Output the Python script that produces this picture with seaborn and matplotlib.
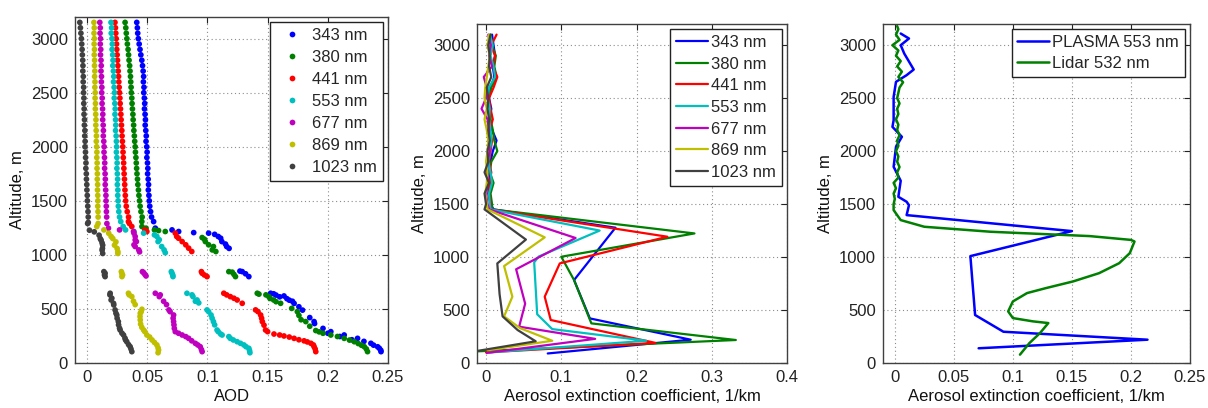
import matplotlib
matplotlib.use("Agg")
import matplotlib.pyplot as plt
import seaborn as sns
import pandas as pd
from matplotlib.ticker import FuncFormatter, MultipleLocator

sns.set_theme(style="white")
plt.rcParams['font.family'] = ['Liberation Sans', 'DejaVu Sans']

# ---------------- common ----------------
wavelengths = ['343 nm', '380 nm', '441 nm', '553 nm', '677 nm', '869 nm', '1023 nm']
colors = ['#0000ff', '#008000', '#ff0000', '#00bfbf', '#bf00bf', '#bfbf00', '#404040']

# ---------------- panel 1: AOD profiles (points) ----------------
alt_upper = [3150, 3100, 3050, 3000, 2950, 2900, 2850, 2800, 2750, 2700, 2650, 2600, 2550,
             2500, 2450, 2400, 2350, 2300, 2250, 2200, 2150, 2100, 2050, 2000, 1950, 1900,
             1850, 1800, 1750, 1700, 1650, 1600, 1550, 1500, 1450, 1400, 1350]

aod_up_343 = [.0413, .0418, .0421, .0426, .0433, .0440, .0447, .0455, .0461, .0466, .0470, .0468, .0473,
              .0471, .0476, .0479, .0477, .0482, .0485, .0483, .0488, .0492, .0490, .0496, .0499, .0497,
              .0502, .0505, .0503, .0508, .0511, .0509, .0514, .0517, .0521, .0528, .0536]
aod_up_380 = [.0316, .0322, .0326, .0331, .0335, .0341, .0345, .0349, .0354, .0357, .0361, .0363, .0366,
              .0368, .0372, .0374, .0377, .0381, .0383, .0387, .0389, .0393, .0396, .0400, .0402, .0406,
              .0409, .0412, .0415, .0419, .0422, .0427, .0431, .0436, .0441, .0448, .0458]
aod_up_441 = [.0232, .0236, .0239, .0242, .0245, .0247, .0250, .0253, .0256, .0259, .0262, .0264, .0267,
              .0270, .0273, .0275, .0278, .0281, .0283, .0286, .0289, .0291, .0294, .0297, .0299, .0301,
              .0304, .0306, .0308, .0311, .0313, .0315, .0318, .0321, .0326, .0334, .0345]
aod_up_553 = [.0199, .0204, .0201, .0207, .0210, .0208, .0213, .0216, .0214, .0219, .0222, .0220, .0225,
              .0228, .0226, .0231, .0234, .0232, .0237, .0239, .0237, .0242, .0244, .0246, .0244, .0248,
              .0250, .0248, .0252, .0254, .0252, .0256, .0255, .0258, .0260, .0264, .0270]
aod_up_677 = [.0106, .0110, .0108, .0112, .0110, .0114, .0112, .0116, .0118, .0116, .0120, .0119, .0123,
              .0122, .0126, .0125, .0129, .0131, .0130, .0134, .0136, .0135, .0139, .0142, .0141, .0145,
              .0147, .0146, .0150, .0152, .0151, .0155, .0157, .0158, .0160, .0161, .0163]
aod_up_869 = [.0057, .0060, .0058, .0061, .0059, .0062, .0060, .0063, .0062, .0065, .0063, .0066, .0065,
              .0068, .0067, .0070, .0069, .0072, .0074, .0073, .0076, .0078, .0077, .0080, .0082, .0081,
              .0084, .0083, .0086, .0085, .0088, .0087, .0089, .0090, .0089, .0091, .0092]
aod_up_1023 = [-.0060, -.0055, -.0051, -.0047, -.0044, -.0041, -.0039, -.0036, -.0034, -.0035, -.0031, -.0032, -.0028,
               -.0029, -.0026, -.0027, -.0024, -.0025, -.0021, -.0022, -.0018, -.0019, -.0016, -.0017, -.0013, -.0012,
               -.0009, -.0010, -.0006, -.0005, -.0002, -.0001, .0002, .0003, .0006, .0008, .0010]

alt_low_343 = [1308, 1247, 1231, 1216, 1206, 1201, 1190, 1170, 1154, 1123, 1100, 1077, 1060,
               850, 845, 825, 799,
               645, 640, 628, 620, 612, 595, 581, 571, 551, 520, 489, 420, 383, 365, 320, 290, 275,
               259, 245, 228, 215, 200, 182, 165, 150, 136, 118, 105]
aod_low_343 = [.0553, .0567, .0706, .0761, .0886, .1010, .1060, .1090, .1110, .1120, .1150, .1160, .1180,
               .1270, .1289, .1317, .1344,
               .1525, .1550, .1570, .1636, .1600, .1660, .1680, .1706, .1720, .1760, .1790, .1850, .1886, .1890,
               .1960, .2025, .2000, .2136, .2100, .2247, .2200, .2300, .2358, .2380, .2414, .2428, .2440, .2442]
alt_low_380 = [1308, 1262, 1247, 1231, 1225, 1216, 1160, 1145, 1123, 1093, 1077, 1046, 1031,
               845, 840, 820, 799,
               645, 637, 630, 614, 597, 583, 567, 552, 505, 475, 440, 400, 383, 340, 300, 288, 275,
               259, 245, 228, 212, 197, 180, 164, 151, 130, 105]
aod_low_380 = [.0455, .0456, .0490, .0560, .0594, .0650, .0956, .0975, .0983, .1010, .1050, .1040, .1070,
               .1178, .1206, .1220, .1233,
               .1414, .1428, .1486, .1510, .1520, .1550, .1570, .1608, .1700, .1747, .1760, .1778, .1817, .1850,
               .1900, .1928, .1960, .2025, .2080, .2136, .2180, .2220, .2253, .2280, .2303, .2320, .2330]
alt_low_441 = [1308, 1290, 1262, 1231, 1216, 1201, 1170, 1154, 1123, 1093, 1062, 1031,
               845, 830, 814, 799,
               645, 630, 614, 599, 583, 552, 491, 475, 444, 414, 383, 350, 305, 290, 268, 259, 250, 240,
               228, 215, 205, 195, 182, 167, 151, 130, 105]
aod_low_441 = [.0344, .0352, .0372, .0480, .0497, .0733, .0745, .0760, .0790, .0820, .0844, .0870,
               .0950, .0956, .0975, .0997,
               .1136, .1160, .1190, .1220, .1247, .1289, .1400, .1420, .1442, .1450, .1456, .1470, .1483, .1500,
               .1553, .1600, .1636, .1680, .1720, .1760, .1803, .1830, .1860, .1880, .1886, .1895, .1900]
alt_low_553 = [1308, 1262, 1231, 1216, 1201, 1185, 1170, 1140, 1123, 1077, 1046, 1020,
               845, 830, 814, 799,
               645, 630, 614, 583, 571, 556, 491, 475, 444, 414, 383, 353, 305, 290, 268, 259, 244, 228,
               213, 197, 182, 167, 151, 136, 115, 95]
aod_low_553 = [.0280, .0300, .0320, .0390, .0470, .0560, .0580, .0600, .0590, .0620, .0640, .0650,
               .0700, .0706, .0712, .0714,
               .0830, .0872, .0880, .0914, .0900, .0928, .0997, .1010, .1030, .1039, .1050, .1060, .1080, .1090,
               .1110, .1122, .1178, .1190, .1215, .1247, .1275, .1303, .1320, .1344, .1350, .1353]
alt_low_677 = [1290, 1247, 1231, 1216, 1200, 1170, 1138, 1123, 1093, 1077, 1046, 1028,
               845, 836, 820, 805,
               645, 630, 614, 571, 540, 491, 475, 444, 414, 383, 353, 320, 290, 275, 259, 244, 228,
               205, 182, 167, 151, 125, 105]
aod_low_677 = [.0165, .0178, .0270, .0386, .0390, .0400, .0400, .0410, .0390, .0400, .0430, .0436,
               .0460, .0470, .0480, .0490,
               .0567, .0608, .0600, .0636, .0660, .0680, .0690, .0719, .0715, .0719, .0722, .0725, .0733,
               .0760, .0790, .0820, .0844, .0870, .0900, .0920, .0940, .0950, .0956]
alt_low_869 = [1290, 1262, 1231, 1200, 1170, 1151, 1120, 1090, 1059, 1030, 1013,
               845, 830, 814, 799,
               645, 630, 614, 571, 540, 497, 475, 460, 430, 398, 360, 330, 305, 290, 259, 240, 213,
               190, 167, 140, 120, 95]
aod_low_869 = [.0092, .0081, .0140, .0180, .0200, .0214, .0240, .0228, .0250, .0256, .0256,
               .0285, .0289, .0295, .0290,
               .0344, .0350, .0372, .0386, .0400, .0456, .0450, .0442, .0440, .0442, .0445, .0455, .0470,
               .0480, .0497, .0520, .0540, .0560, .0580, .0590, .0594, .0590]
alt_low_1023 = [1300, 1290, 1228, 1213, 1182, 1150, 1136, 1110, 1090, 1060, 1044, 1013,
                845, 830, 814, 799,
                645, 630, 599, 583, 552, 537, 491, 460, 444, 414, 383, 353, 322, 305, 276, 259, 230,
                213, 197, 170, 151, 130, 105]
aod_low_1023 = [.0010, .0005, .0020, .0060, .0100, .0110, .0117, .0125, .0130, .0128, .0125, .0130,
                .0140, .0150, .0145, .0150,
                .0192, .0190, .0206, .0200, .0220, .0222, .0233, .0240, .0247, .0250, .0260, .0262, .0270,
                .0275, .0290, .0303, .0315, .0320, .0330, .0345, .0358, .0365, .0372]

# ---------------- panel 2: extinction profiles (lines) ----------------
alt_ext_upper = [3100, 3000, 2900, 2800, 2700, 2600, 2500, 2400, 2300, 2200, 2100, 2000, 1900,
                 1800, 1700, 1600, 1500]
ext_up_343 = [0.008, 0.010, 0.012, 0.009, 0.011, 0.006, 0.004, 0.007, 0.005, 0.008, 0.014, 0.009, 0.006, 0.004, 0.005, 0.003, 0.006]
ext_up_380 = [0.006, 0.008, 0.013, 0.011, 0.014, 0.007, 0.003, 0.005, 0.006, 0.009, 0.011, 0.015, 0.007, 0.005, 0.010, 0.006, 0.008]
ext_up_441 = [0.014, 0.007, 0.012, 0.009, 0.015, 0.010, 0.004, 0.006, 0.009, 0.005, 0.008, 0.006, 0.004, 0.007, 0.005, 0.004, 0.006]
ext_up_553 = [0.005, 0.009, 0.006, 0.010, 0.012, 0.004, 0.002, 0.005, 0.004, 0.006, 0.007, 0.005, 0.003, 0.006, 0.008, 0.004, 0.005]
ext_up_677 = [0.003, 0.006, 0.004, 0.008, -0.003, 0.001, 0.000, -0.006, 0.002, 0.004, 0.003, 0.005, 0.002, 0.001, 0.003, 0.000, 0.002]
ext_up_869 = [0.004, 0.002, 0.005, 0.003, 0.001, -0.001, -0.002, 0.001, -0.002, 0.001, 0.003, 0.002, 0.000, 0.002, 0.001, -0.001, 0.001]
ext_up_1023 = [0.006, 0.003, 0.005, 0.004, 0.007, 0.001, 0.003, 0.002, 0.004, 0.003, 0.005, 0.002, 0.003, -0.002, 0.004, -0.002, 0.000]

alt_ext_low_343 = [1450, 1277, 783, 421, 220, 90]
ext_low_343 = [0.010, 0.172, 0.117, 0.138, 0.272, 0.082]
alt_ext_low_380 = [1450, 1223, 1003, 783, 374, 217, 110]
ext_low_380 = [0.008, 0.277, 0.100, 0.117, 0.140, 0.332, -0.012]
alt_ext_low_441 = [1450, 1192, 940, 626, 406, 190, 100]
ext_low_441 = [0.006, 0.241, 0.098, 0.078, 0.086, 0.225, 0.000]
alt_ext_low_553 = [1450, 1250, 1005, 950, 460, 320, 210, 100]
ext_low_553 = [0.006, 0.151, 0.070, 0.064, 0.068, 0.088, 0.213, 0.005]
alt_ext_low_677 = [1450, 1180, 885, 560, 343, 228, 95]
ext_low_677 = [0.004, 0.119, 0.040, 0.052, 0.044, 0.145, 0.001]
alt_ext_low_869 = [1450, 1186, 915, 626, 440, 330, 210, 120]
ext_low_869 = [0.002, 0.078, 0.024, 0.035, 0.024, 0.045, 0.088, 0.002]
alt_ext_low_1023 = [1450, 1165, 940, 650, 440, 311, 205, 110]
ext_low_1023 = [-0.002, 0.053, 0.015, 0.018, 0.022, 0.042, 0.066, -0.015]

# ---------------- panel 3: PLASMA vs Lidar ----------------
series3 = ['PLASMA 553 nm', 'Lidar 532 nm']
colors3 = ['#0000ff', '#008000']
alt_plasma = [3110, 3063, 3000, 2921, 2770, 2717, 2654, 2512, 2292, 2229, 2135, 2040, 1852, 1720,
              1569, 1522, 1490, 1396, 1245, 1009, 453, 295, 220, 139]
ext_plasma = [0.005, 0.012, 0.005, 0.008, 0.016, 0.010, 0.001, -0.001, -0.001, -0.002, 0.006, 0.001,
              -0.001, 0.005, 0.003, 0.010, 0.012, 0.010, 0.150, 0.064, 0.068, 0.092, 0.214, 0.071]
alt_lidar = [3180, 3150, 3100, 3050, 3000, 2950, 2900, 2850, 2800, 2750, 2700, 2650, 2600, 2550,
             2500, 2450, 2400, 2350, 2300, 2250, 2200, 2150, 2100, 2050, 2000, 1950, 1900, 1850,
             1800, 1750, 1700, 1650, 1600, 1550, 1500, 1443, 1349, 1286, 1239, 1198, 1162, 1147,
             1037, 942, 848, 770, 707, 660, 581, 487, 424, 393, 377, 283, 188, 79]
ext_lidar = [0.002, 0.003, 0.001, 0.004, -0.002, 0.003, 0.001, 0.005, 0.002, 0.006, 0.003, 0.007, 0.004, 0.003,
             0.002, 0.004, 0.002, 0.003, 0.001, 0.003, 0.002, 0.004, 0.002, 0.003, 0.001, 0.003, 0.002, 0.004,
             0.002, 0.003, -0.001, 0.001, -0.001, 0.000, -0.001, -0.001, 0.005, 0.025, 0.081, 0.165, 0.200, 0.203,
             0.199, 0.190, 0.173, 0.151, 0.128, 0.112, 0.100, 0.096, 0.100, 0.117, 0.130, 0.123, 0.114, 0.106]

# ---------------- assemble data frames ----------------
aod_up = dict(zip(wavelengths, [aod_up_343, aod_up_380, aod_up_441, aod_up_553, aod_up_677, aod_up_869, aod_up_1023]))
alt_low = dict(zip(wavelengths, [alt_low_343, alt_low_380, alt_low_441, alt_low_553, alt_low_677, alt_low_869, alt_low_1023]))
aod_low = dict(zip(wavelengths, [aod_low_343, aod_low_380, aod_low_441, aod_low_553, aod_low_677, aod_low_869, aod_low_1023]))
rows = []
for wl in wavelengths:
    for a, v in zip(alt_upper + alt_low[wl], aod_up[wl] + aod_low[wl]):
        rows.append((wl, v, a))
df1 = pd.DataFrame(rows, columns=['wl', 'aod', 'alt'])

ext_up = dict(zip(wavelengths, [ext_up_343, ext_up_380, ext_up_441, ext_up_553, ext_up_677, ext_up_869, ext_up_1023]))
alt_ext_low = dict(zip(wavelengths, [alt_ext_low_343, alt_ext_low_380, alt_ext_low_441, alt_ext_low_553,
                                     alt_ext_low_677, alt_ext_low_869, alt_ext_low_1023]))
ext_low = dict(zip(wavelengths, [ext_low_343, ext_low_380, ext_low_441, ext_low_553, ext_low_677, ext_low_869, ext_low_1023]))
rows = []
for wl in wavelengths:
    for i, (a, v) in enumerate(zip(alt_ext_upper + alt_ext_low[wl], ext_up[wl] + ext_low[wl])):
        rows.append((wl, i, v, a))
df2 = pd.DataFrame(rows, columns=['wl', 'idx', 'ext', 'alt'])

rows = []
for i, (a, v) in enumerate(zip(alt_plasma, ext_plasma)):
    rows.append((series3[0], i, v, a))
for i, (a, v) in enumerate(zip(alt_lidar, ext_lidar)):
    rows.append((series3[1], i, v, a))
df3 = pd.DataFrame(rows, columns=['src', 'idx', 'ext', 'alt'])

# ---------------- figure ----------------
W, H = 1208, 408
fig = plt.figure(figsize=(W / 100, H / 100), dpi=100)
fig.patch.set_facecolor('white')


def box(l, t, r, b):
    return [l / W, (H - b) / H, (r - l) / W, (b - t) / H]


ax1 = fig.add_axes(box(75, 17, 388, 363))
ax2 = fig.add_axes(box(477, 24, 787, 363))
ax3 = fig.add_axes(box(883, 24, 1190, 363))

sns.scatterplot(data=df1, x='aod', y='alt', hue='wl', hue_order=wavelengths, palette=colors,
                s=17, linewidth=0, ax=ax1, legend=True)
sns.lineplot(data=df2, x='ext', y='alt', hue='wl', hue_order=wavelengths, palette=colors,
             units='wl', sort=False, estimator=None, linewidth=1.6, ax=ax2, legend=True)
sns.lineplot(data=df3, x='ext', y='alt', hue='src', hue_order=series3, palette=colors3,
             units='src', sort=False, estimator=None, linewidth=1.8, ax=ax3, legend=True)

fmt = FuncFormatter(lambda v, p: '%g' % round(v, 4))
for ax, xmax, xstep, xmin in [(ax1, 0.25, 0.05, -0.01), (ax2, 0.4, 0.1, -0.012), (ax3, 0.25, 0.05, -0.01)]:
    ax.set_xlim(xmin, xmax)
    ax.set_ylim(0, 3200)
    ax.xaxis.set_major_locator(MultipleLocator(xstep))
    ax.yaxis.set_major_locator(MultipleLocator(500))
    ax.xaxis.set_major_formatter(fmt)
    ax.yaxis.set_major_formatter(fmt)
    ax.grid(True, color='#8c8c8c', linestyle=(0, (1, 2.5)), linewidth=0.8)
    ax.tick_params(direction='in', top=True, right=True, length=4, width=0.8,
                   labelsize=12, pad=5, colors='#222222')
    for sp in ax.spines.values():
        sp.set_color('#404040')
        sp.set_linewidth(1.0)
    ax.set_ylabel('Altitude, m', fontsize=12, color='#111111')
    ax.set_facecolor('white')

ax1.set_xlabel('AOD', fontsize=12, color='#111111', labelpad=3)
ax2.set_xlabel('Aerosol extinction coefficient, 1/km', fontsize=12, color='#111111', labelpad=3)
ax3.set_xlabel('Aerosol extinction coefficient, 1/km', fontsize=12, color='#111111', labelpad=3)

common_leg = dict(title=None, frameon=True, fancybox=False, framealpha=1, edgecolor='#222222',
                  fontsize=12, borderaxespad=0.3, handletextpad=0.2, borderpad=0.35)
sns.move_legend(ax1, 'upper right', labelspacing=0.42, handlelength=2.0, markerscale=1.0, **common_leg)
sns.move_legend(ax2, 'upper right', labelspacing=0.4, handlelength=1.9, **common_leg)
sns.move_legend(ax3, 'upper right', labelspacing=0.35, handlelength=1.9, **common_leg)
for ax in (ax1, ax2, ax3):
    ax.get_legend().get_frame().set_linewidth(1.0)

fig.savefig('out.png', dpi=100, facecolor='white')
